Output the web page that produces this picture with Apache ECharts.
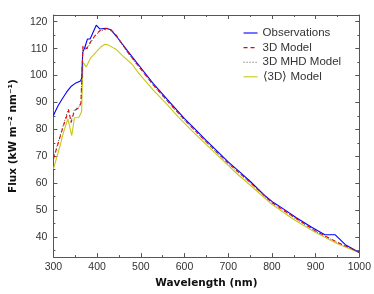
<!DOCTYPE html>
<html><head><meta charset="utf-8">
<script src="https://cdn.jsdelivr.net/npm/echarts@6/dist/echarts.min.js"></script>
<style>html,body{margin:0;padding:0;background:#fff}#c{width:374px;height:294px}</style>
</head><body><div id="c"></div>
<script>
// Wavelength (nm) / Flux pairs
const obsX = [300,310,320,330,340,350,362,365,367,372,378,384,398,406,420,432,445,470,500,528,560,600,623,650,700,730,750,785,800,822,855,891,921,945,968,1000];
const obsY = [85.1,88.6,91.3,93.8,95.9,97.1,98.0,99.2,108.6,110.5,113.6,113.6,118.7,117.3,117.6,117.0,114.4,109.1,102.9,97.1,91.2,84.0,80.3,75.8,67.9,63.6,60.7,55.2,53.2,50.9,47.2,43.6,40.8,40.8,37.1,34.2];
const m3dX = [300,311,322,335,340.5,348,359,363,367.6,376,385,395,407,425,440,470,500,528,560,600,650,700,750,800,850,900,950,1000];
const m3dY = [68.9,74.9,80.9,87.1,82.5,86.9,88.1,89.9,111.0,110.0,112.5,114.8,116.8,117.6,115.8,108.7,102.4,96.6,90.7,83.5,75.3,67.4,60.3,52.8,47.4,42.2,38.0,34.3];
const mhdX = [300,311,322,334,340,348,359,363,367.6,376,385,395,407,425,440,470,500,528,560,600,650,700,750,800,850,900,950,1000];
const mhdY = [69.3,75.3,81.3,87.5,82.9,87.3,88.4,90.2,110.5,109.6,112.2,114.6,116.6,117.3,115.6,108.5,102.2,96.4,90.5,83.3,75.1,67.2,60.1,52.6,47.2,42.0,37.9,34.3];
const avgX = [300,315,322,333,342,348,358,364.5,367.6,375,385,397,410,418,425,443,458,480,495,528,560,586,623,650,700,722,750,800,850,900,950,1000];
const avgY = [65.3,73.7,78.3,83.9,77.7,84.3,84.4,86.5,105.0,103.2,106.5,108.6,110.8,111.6,111.4,109.8,107.4,104.2,100.9,94.7,89.3,84.5,78.5,74.3,66.6,63.2,59.3,52.1,46.5,41.6,37.5,34.1];
const seriesNames = ['Observations','3D Model','3D MHD Model','\u27e83D\u27e9 Model'];
const yMajor = [40,50,60,70,80,90,100,110,120];
const yMinor = [35,45,55,65,75,85,95,105,115];

const zip = (xs, ys) => xs.map((x, i) => [x, ys[i]]);
const axisCol = '#555';
const labelFont = {fontFamily:'Liberation Sans', fontSize:10.5, color:'#333'};

function yAx(pos, ticks, len, showLabel, showLine) {
  return {
    type:'value', position:pos, min:32.5, max:122.5,
    axisLine:{show:showLine, lineStyle:{color:axisCol, width:1}},
    axisTick:{show:true, inside:true, length:len, customValues:ticks, lineStyle:{color:axisCol}},
    axisLabel:Object.assign({show:showLabel, customValues:ticks, margin:6}, labelFont),
    splitLine:{show:false}
  };
}

const chart = echarts.init(document.getElementById('c'), null, {renderer:'canvas'});
chart.setOption({
  backgroundColor:'#fff',
  animation:false,
  grid:{left:43, right:13, top:15, bottom:30},
  legend:{
    left:238, top:22, orient:'vertical', itemWidth:14, itemHeight:10, itemGap:2.6,
    itemStyle:{opacity:0}, lineStyle:{width:1.1},
    textStyle:{fontFamily:'Liberation Sans', fontSize:11.5, color:'#333'},
    data:seriesNames
  },
  xAxis:[
    {type:'value', position:'bottom', min:300, max:1000, interval:100,
     axisLine:{show:true, onZero:false, lineStyle:{color:axisCol, width:1}},
     axisTick:{show:true, inside:true, length:4, lineStyle:{color:axisCol}},
     minorTick:{show:true, splitNumber:2, length:2, lineStyle:{color:axisCol}},
     axisLabel:Object.assign({margin:5, formatter:v => String(v)}, labelFont),
     splitLine:{show:false}, minorSplitLine:{show:false},
     name:'Wavelength (nm)', nameLocation:'middle', nameGap:15,
     nameTextStyle:{fontFamily:'DejaVu Sans', fontWeight:'bold', fontSize:10.5, color:'#111'}},
    {type:'value', position:'top', min:300, max:1000, interval:100,
     axisLine:{show:true, onZero:false, lineStyle:{color:axisCol, width:1}},
     axisTick:{show:true, inside:true, length:4, lineStyle:{color:axisCol}},
     minorTick:{show:true, splitNumber:2, length:2, lineStyle:{color:axisCol}},
     axisLabel:{show:false}, splitLine:{show:false}}
  ],
  yAxis:[
    Object.assign(yAx('left', yMajor, 4, true, true), {
      name:'Flux (kW m\u207b\u00b2 nm\u207b\u00b9)', nameLocation:'middle', nameGap:28,
      nameTextStyle:{fontFamily:'DejaVu Sans', fontWeight:'bold', fontSize:10.5, color:'#111'}}),
    yAx('left', yMinor, 2, false, false),
    yAx('right', yMajor, 4, false, true),
    yAx('right', yMinor, 2, false, false)
  ],
  series:[
    {name:seriesNames[0], type:'line', data:zip(obsX, obsY), symbol:'none', z:4,
     lineStyle:{color:'#0000ff', width:1.1}, itemStyle:{color:'#0000ff'}},
    {name:seriesNames[1], type:'line', data:zip(m3dX, m3dY), symbol:'none', z:5,
     lineStyle:{color:'#ee0000', width:1.1, type:[4,3]}, itemStyle:{color:'#ee0000'}},
    {name:seriesNames[2], type:'line', data:zip(mhdX, mhdY), symbol:'none', z:6,
     lineStyle:{color:'#555', width:1, type:[1,2]}, itemStyle:{color:'#555'}},
    {name:seriesNames[3], type:'line', data:zip(avgX, avgY), symbol:'none', z:3,
     lineStyle:{color:'#c8c814', width:1.1}, itemStyle:{color:'#c8c814'}}
  ]
});
</script></body></html>
